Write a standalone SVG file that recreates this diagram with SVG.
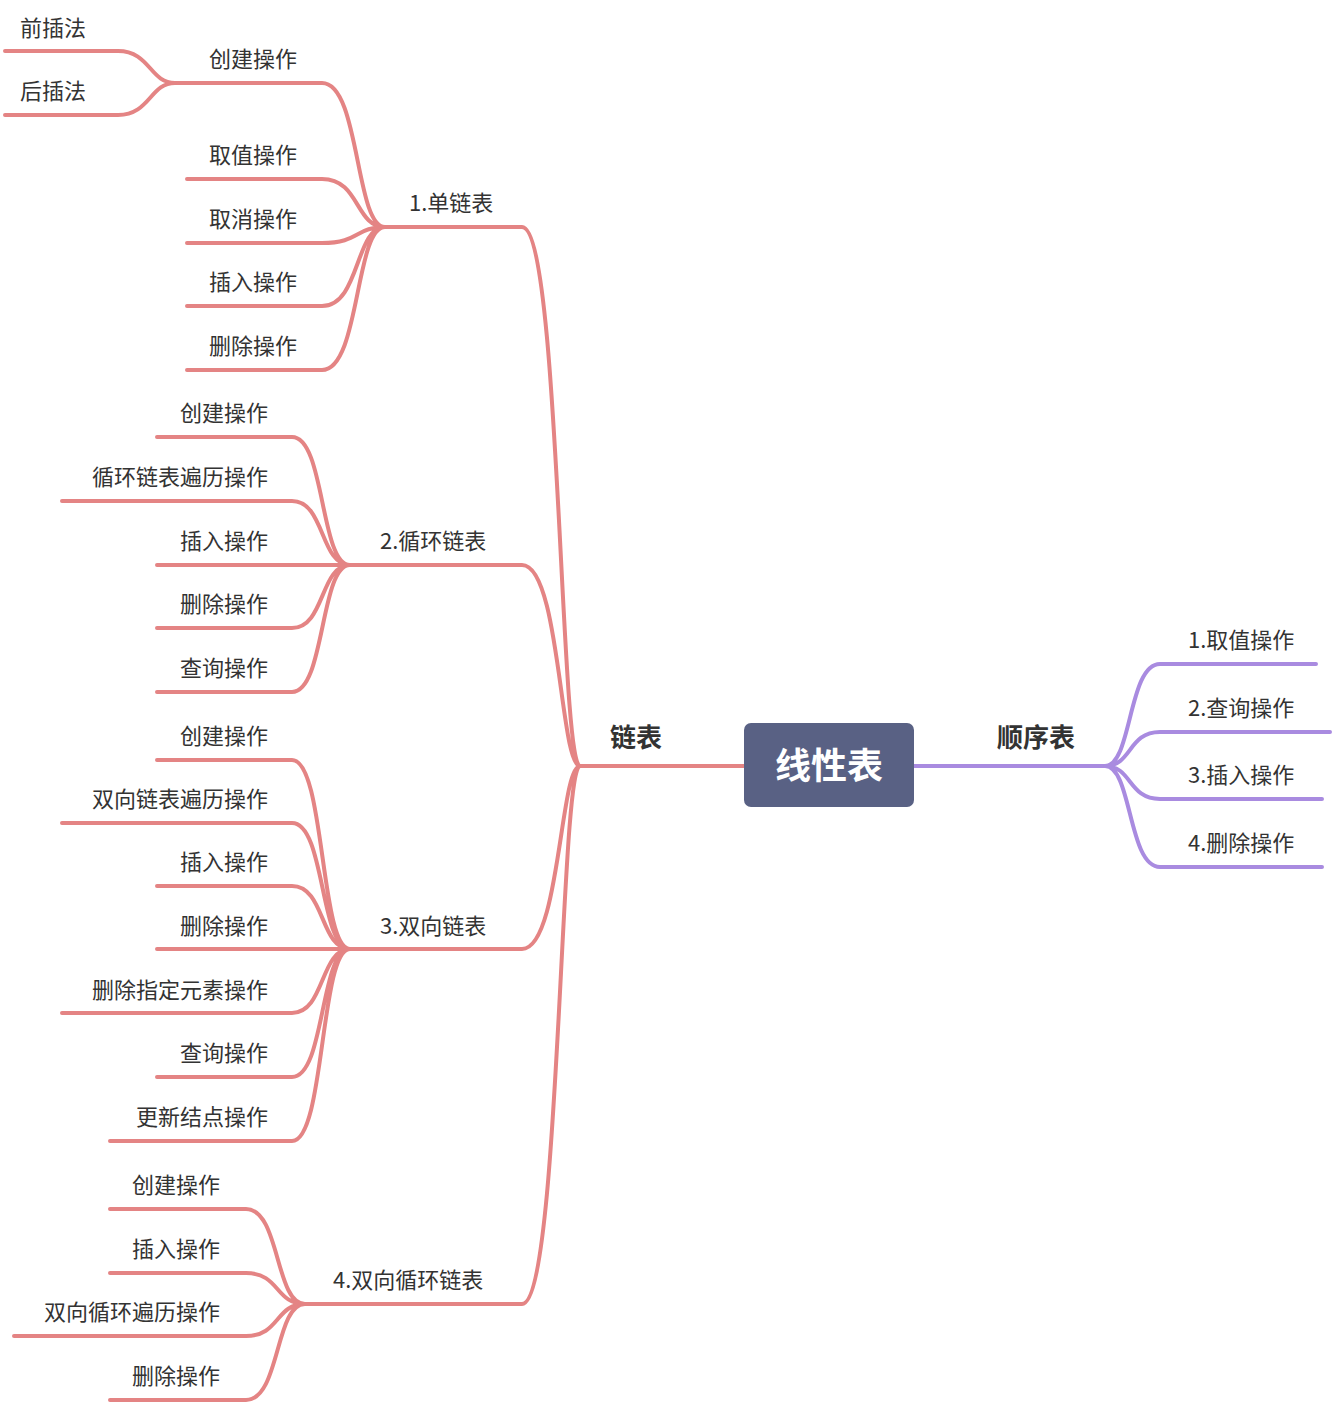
<svg xmlns="http://www.w3.org/2000/svg" width="1334" height="1404" viewBox="0 0 1334 1404">
<style>
.r{fill:none;stroke:#e48484;stroke-width:4;stroke-linecap:round}
.p{fill:none;stroke:#a98be0;stroke-width:4;stroke-linecap:round}
text{font-family:"Noto Sans CJK SC","Noto Sans",sans-serif;fill:#333;font-size:22px}
.e{text-anchor:end}
.b{font-weight:bold;font-size:26px}
</style>
<rect width="1334" height="1404" fill="#fff"/>
<g id="connectors">
<path class="r" d="M744 766H580"/>
<path class="p" d="M914 766H1105"/>
<path class="p" d="M1105 766C1132 766 1128 664 1160 664H1316M1105 766C1132 766 1128 732 1160 732H1330M1105 766C1132 766 1128 799 1160 799H1322M1105 766C1132 766 1128 867 1160 867H1322"/>
<path class="r" d="M580 766C560 766 560 227 522 227H385M580 766C560 766 560 565 522 565H350M580 766C560 766 560 949 522 949H350M580 766C560 766 560 1304 522 1304H305"/>
<path class="r" d="M385 227C355 227 360 83 322 83H175M385 227C355 227 360 179 322 179H187M385 227C355 227 360 243 322 243H187M385 227C355 227 360 306 322 306H187M385 227C355 227 360 370 322 370H187"/>
<path class="r" d="M175 83C150 83 150 51 118 51H5M175 83C150 83 150 115 118 115H5"/>
<path class="r" d="M350 565C320 565 325 437 292 437H157M350 565C320 565 325 501 292 501H62M350 565C320 565 325 565 292 565H157M350 565C320 565 325 628 292 628H157M350 565C320 565 325 692 292 692H157"/>
<path class="r" d="M350 949C320 949 325 760 292 760H157M350 949C320 949 325 823 292 823H62M350 949C320 949 325 886 292 886H157M350 949C320 949 325 949 292 949H157M350 949C320 949 325 1013 292 1013H62M350 949C320 949 325 1077 292 1077H157M350 949C320 949 325 1141 292 1141H110"/>
<path class="r" d="M305 1304C275 1304 280 1209 246 1209H110M305 1304C275 1304 280 1273 246 1273H110M305 1304C275 1304 280 1336 246 1336H14M305 1304C275 1304 280 1400 246 1400H110"/>
</g>
<g id="root"><rect x="744" y="723" width="170" height="84" rx="7" fill="#596184"/><text x="829" y="779" text-anchor="middle" style="fill:#fff;font-size:36px;font-weight:bold">线性表</text></g>
<g id="linked"><text x="636" y="747" text-anchor="middle" class="b">链表</text></g>
<g id="seq"><text x="1036" y="747" text-anchor="middle" class="b">顺序表</text></g>
<g id="seq-children">
<text x="1188" y="648">1.取值操作</text><text x="1188" y="716">2.查询操作</text><text x="1188" y="783">3.插入操作</text><text x="1188" y="851">4.删除操作</text>
</g>
<g id="l1"><text x="409" y="211">1.单链表</text><text x="380" y="549">2.循环链表</text><text x="380" y="934">3.双向链表</text><text x="333" y="1288">4.双向循环链表</text></g>
<g id="n1">
<text x="297" y="67" class="e">创建操作</text><text x="297" y="163" class="e">取值操作</text><text x="297" y="227" class="e">取消操作</text><text x="297" y="290" class="e">插入操作</text><text x="297" y="354" class="e">删除操作</text>
<text x="20" y="36">前插法</text><text x="20" y="99">后插法</text>
</g>
<g id="n2">
<text x="268" y="421" class="e">创建操作</text><text x="268" y="485" class="e">循环链表遍历操作</text><text x="268" y="549" class="e">插入操作</text><text x="268" y="612" class="e">删除操作</text><text x="268" y="676" class="e">查询操作</text>
</g>
<g id="n3">
<text x="268" y="744" class="e">创建操作</text><text x="268" y="807" class="e">双向链表遍历操作</text><text x="268" y="870" class="e">插入操作</text><text x="268" y="934" class="e">删除操作</text><text x="268" y="998" class="e">删除指定元素操作</text><text x="268" y="1061" class="e">查询操作</text><text x="268" y="1125" class="e">更新结点操作</text>
</g>
<g id="n4">
<text x="220" y="1193" class="e">创建操作</text><text x="220" y="1257" class="e">插入操作</text><text x="220" y="1320" class="e">双向循环遍历操作</text><text x="220" y="1384" class="e">删除操作</text>
</g>
</svg>
